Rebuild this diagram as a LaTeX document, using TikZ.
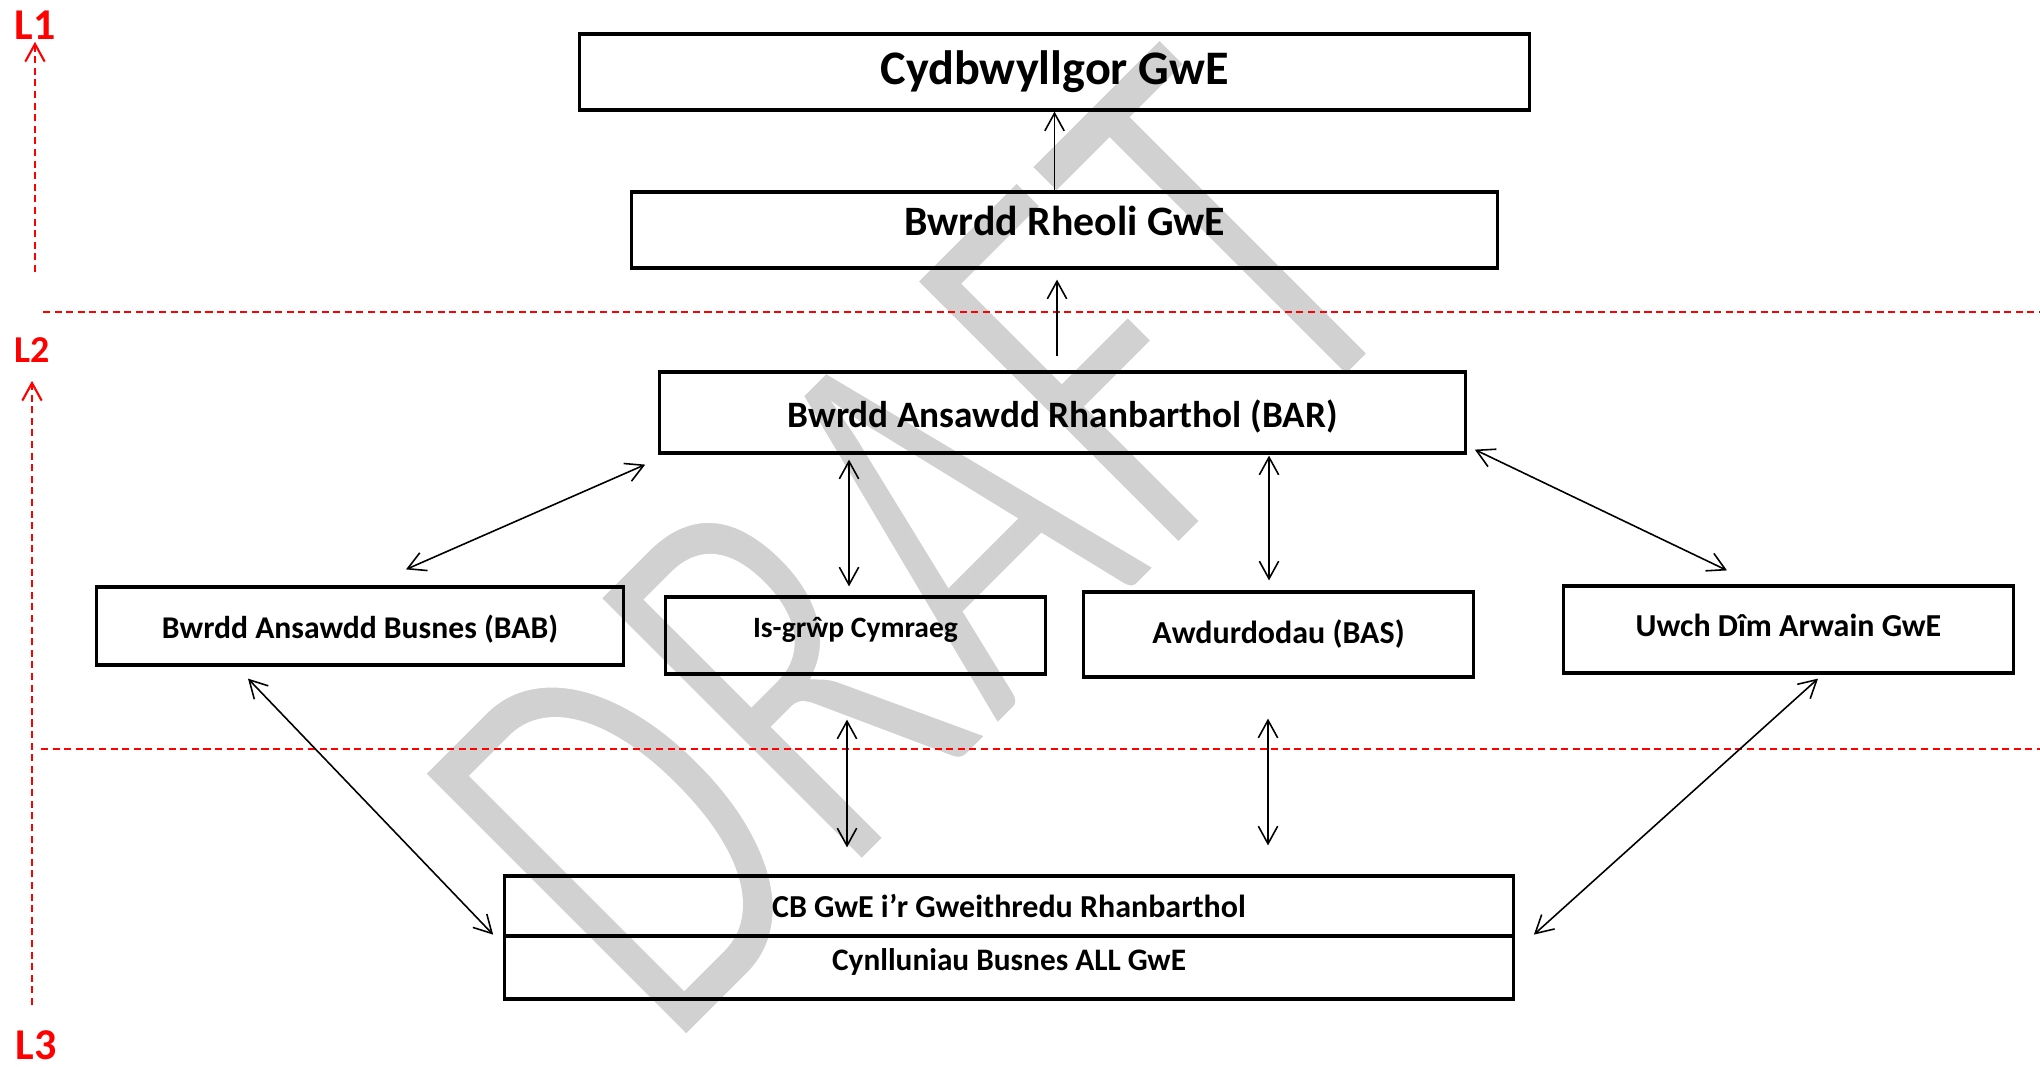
\documentclass[tikz,border=0pt]{standalone}
\usepackage{fontspec}
\setmainfont{Carlito}
\usepackage{graphicx}
\usepackage{tikz}
\usetikzlibrary{calc}
\usetikzlibrary{arrows.meta}

% thinner watermark letters: fill grey, stroke white over the outline
\newcommand{\thinletters}[1]{\special{pdf:literal direct 2 Tr 2.1 w 1 1 1 RG}#1\special{pdf:literal direct 0 Tr}}

\begin{document}
\begin{tikzpicture}[x=0.01cm,y=-0.01cm,>={Straight Barb[length=5pt,width=5.5pt]},
                    line width=0.45pt]
  \tikzstyle{box}=[draw,line width=0.9pt,inner sep=0pt]
  \tikzstyle{level}=[red,line width=0.6pt,dash pattern=on 2pt off 1.3pt]
  \tikzstyle{lab}=[red,inner sep=0pt]

  \useasboundingbox (0,0) rectangle (2040,1066);

  % watermark
  \node[rotate=45,text=black!18,font=\fontsize{114}{114}\selectfont] (W) at (915,545)
       {\scalebox{1}[1.47]{\thinletters{DRAFT}}};

  \node[box,minimum width=9.49cm,minimum height=0.76cm,font=\bfseries\fontsize{13.7}{16}\selectfont]  (CG)  at (1054.5,72)   {Cydbwyllgor GwE};
  \node[box,minimum width=8.65cm,minimum height=0.76cm,text depth=5.1pt,font=\bfseries\fontsize{11.9}{14}\selectfont]  (BR)  at (1064.5,230)  {Bwrdd Rheoli GwE};
  \node[box,minimum width=8.05cm,minimum height=0.81cm,text height=10pt,font=\bfseries\fontsize{10.6}{13}\selectfont]  (BAR) at (1062.5,412.5) {Bwrdd Ansawdd Rhanbarthol (BAR)};
  \node[box,minimum width=5.26cm,minimum height=0.78cm,text height=8.3pt,font=\bfseries\fontsize{9}{11}\selectfont]     (BAB) at (360,626)     {Bwrdd Ansawdd Busnes (BAB)};
  \node[box,minimum width=3.79cm,minimum height=0.77cm,text depth=4.6pt,font=\bfseries\fontsize{8.4}{10}\selectfont]   (IG)  at (855.5,635.5) {Is-grŵp Cymraeg};
  \node[box,minimum width=3.89cm,minimum height=0.85cm,font=\bfseries\fontsize{9.1}{11}\selectfont]   (BAS) at (1278.5,634.5) {Awdurdodau (BAS)};
  \node[box,minimum width=4.49cm,minimum height=0.87cm,text depth=2.2pt,font=\bfseries\fontsize{9.1}{11}\selectfont]   (UDA) at (1788.5,629.5) {Uwch Dîm Arwain GwE};
  \node[box,minimum width=10.08cm,minimum height=0.60cm,font=\bfseries\fontsize{9.1}{11}\selectfont]  (CB)  at (1009,906)    {CB GwE i’r Gweithredu Rhanbarthol};
  \node[box,minimum width=10.08cm,minimum height=0.63cm,text depth=4.7pt,font=\bfseries\fontsize{8.9}{11}\selectfont]  (CBA) at (1009,967.5)  {Cynlluniau Busnes ALL GwE};

  % levels
  \node[lab,font=\bfseries\fontsize{12.5}{14}\selectfont] (L1) at (35,25)   {L1};
  \node[lab,font=\bfseries\fontsize{10.8}{12}\selectfont] (L2) at (32,350)  {L2};
  \node[lab,font=\bfseries\fontsize{12.5}{14}\selectfont] (L3) at (36,1045) {L3};
  \coordinate (L1a) at (35,272);
  \coordinate (L2a) at (32,1005);
  \coordinate (H1a) at (43,312);
  \coordinate (H1b) at (2040,312);
  \coordinate (H2a) at (41,749);
  \coordinate (H2b) at (2040,749);
  \draw[level,->,shorten >=0.5pt] (L1a) -- (L1);
  \draw[level,->,shorten >=5pt] (L2a) -- (L2);
  \draw[level] (H1a) -- (H1b);
  \draw[level] (H2a) -- (H2b);

  \path (BR.north -| CG.south) edge[->] (CG.south)
        ($(BAR.north)+(-5.5,-14)$) edge[->] ($(BR.south)+(-7.5,10)$)
        ($(BAR.south west)+(-13,10)$) edge[<->] ($(BAB.north)+(46,-16)$)
        ($(IG.north |- BAR.south)+(-6.5,5)$) edge[<->] ($(IG.north)+(-6.5,-9)$)
        ($(BAS.north |- BAR.south)+(-9.5,1)$) edge[<->] ($(BAS.north)+(-9.5,-10)$)
        ($(BAR.south east)+(8,-5)$) edge[<->] ($(UDA.north)+(-61.5,-14)$)
        ($(BAB.south)+(-112,12)$) edge[<->] ($(CB.south west)+(-10,-3)$)
        ($(IG.south)+(-8.5,44)$) edge[<->] ($(IG.south |- CB.north)+(-8.5,-27)$)
        ($(BAS.south)+(-10.5,40)$) edge[<->] ($(BAS.south |- CB.north)+(-10.5,-29)$)
        ($(UDA.south)+(29.5,4)$) edge[<->] ($(CB.south east)+(19,-3)$);

\end{tikzpicture}
\end{document}
